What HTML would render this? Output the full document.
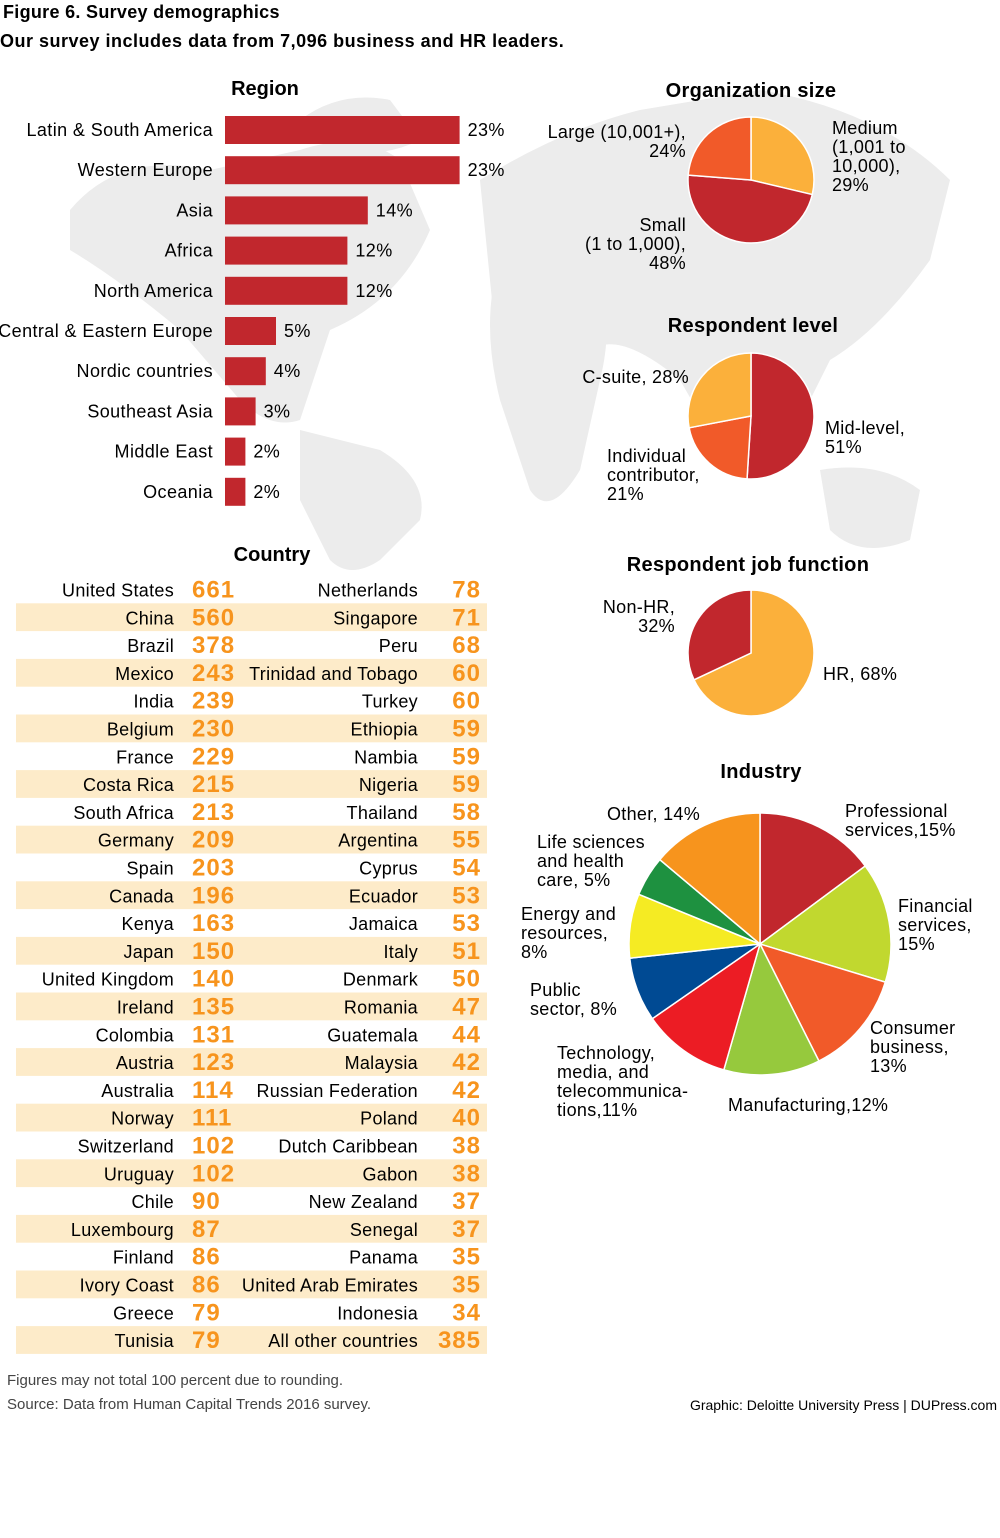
<!DOCTYPE html>
<html><head><meta charset="utf-8"><style>
body{margin:0;background:#fff;font-family:"Liberation Sans","DejaVu Sans",sans-serif;}
#root{position:relative;width:1000px;height:1538px;overflow:hidden;}
svg text{font-family:"Liberation Sans","DejaVu Sans",sans-serif;}
</style></head><body>
<div id="root">
<svg id="svg" width="1000" height="1538" viewBox="0 0 1000 1538">
<g fill="#ececec">
<path d="M70 210 Q120 150 210 170 L300 150 Q360 130 400 160 L430 230 Q400 300 330 330 L300 420 Q270 430 240 400 L180 330 Q120 280 70 250 Z"/>
<path d="M300 120 Q340 90 390 100 L420 140 Q380 160 330 150 Z"/>
<path d="M300 430 L380 450 Q430 480 420 520 L380 560 Q350 580 330 560 L300 500 Z"/>
<path d="M480 180 Q560 130 640 110 L760 90 Q880 110 950 180 L930 260 Q880 330 830 360 L800 420 Q760 470 720 450 L680 380 Q620 330 590 350 L560 420 Q520 440 500 380 Z"/>
<path d="M500 260 L580 250 Q620 300 600 380 L580 470 Q550 520 530 490 L500 400 Q480 320 500 260 Z"/>
<path d="M820 470 Q880 460 920 490 L910 540 Q860 560 830 530 Z"/>
</g>
<g id="title">
<text x="3" y="18" font-size="18" font-weight="bold" letter-spacing="0.3">Figure 6. Survey demographics</text>
<text x="0" y="47" font-size="18" font-weight="bold" letter-spacing="0.5">Our survey includes data from 7,096 business and HR leaders.</text>
</g>
<g id="region"></g>
<g id="country"></g>
<g id="pies"></g>
<g>
<text x="7" y="1385" font-size="15" fill="#444">Figures may not total 100 percent due to rounding.</text>
<text x="7" y="1409" font-size="15" fill="#444">Source: Data from Human Capital Trends 2016 survey.</text>
<text x="997" y="1410" font-size="14" text-anchor="end">Graphic: Deloitte University Press  |  DUPress.com</text>
</g>
</svg>
</div>
<script>
const regionNames=["Latin & South America","Western Europe","Asia","Africa","North America","Central & Eastern Europe","Nordic countries","Southeast Asia","Middle East","Oceania"];
const regionValues=[23,23,14,12,12,5,4,3,2,2];
const countryLeftNames=["United States","China","Brazil","Mexico","India","Belgium","France","Costa Rica","South Africa","Germany","Spain","Canada","Kenya","Japan","United Kingdom","Ireland","Colombia","Austria","Australia","Norway","Switzerland","Uruguay","Chile","Luxembourg","Finland","Ivory Coast","Greece","Tunisia"];
const countryLeftValues=[661,560,378,243,239,230,229,215,213,209,203,196,163,150,140,135,131,123,114,111,102,102,90,87,86,86,79,79];
const countryRightNames=["Netherlands","Singapore","Peru","Trinidad and Tobago","Turkey","Ethiopia","Nambia","Nigeria","Thailand","Argentina","Cyprus","Ecuador","Jamaica","Italy","Denmark","Romania","Guatemala","Malaysia","Russian Federation","Poland","Dutch Caribbean","Gabon","New Zealand","Senegal","Panama","United Arab Emirates","Indonesia","All other countries"];
const countryRightValues=[78,71,68,60,60,59,59,59,58,55,54,53,53,51,50,47,44,42,42,40,38,38,37,37,35,35,34,385];
const orgSizeLabels=["Medium","Small","Large"];
const orgSizeValues=[29,48,24];
const levelLabels=["Mid-level","Individual contributor","C-suite"];
const levelValues=[51,21,28];
const jobLabels=["HR","Non-HR"];
const jobValues=[68,32];
const industryLabels=["Professional services","Financial services","Consumer business","Manufacturing","Technology, media, and telecommunications","Public sector","Energy and resources","Life sciences and health care","Other"];
const industryValues=[15,15,13,12,11,8,8,5,14];

const NS="http://www.w3.org/2000/svg";
function mk(tag,parent,attrs){const e=document.createElementNS(NS,tag);for(const k in attrs)e.setAttribute(k,attrs[k]);parent.appendChild(e);return e;}
function txt(parent,x,y,s,attrs){const t=mk('text',parent,Object.assign({x:x,y:y},attrs||{}));t.textContent=s;return t;}

const rg=document.getElementById('region');
const t0=txt(rg,265,95,"Region",{'font-size':20,'font-weight':'bold','text-anchor':'middle'});


const xScale=v=>v*10.2;
const barY=i=>116+i*40.2;
regionNames.forEach((n,i)=>{
  const y=barY(i);
  const l=txt(rg,213,y+20,n,{'font-size':18,'text-anchor':'end','letter-spacing':0.4});
  
  
  const r=mk('rect',rg,{x:225,y:y,width:xScale(regionValues[i]),height:28,fill:'#c1272d'});
  
  
  const v=txt(rg,225+xScale(regionValues[i])+8,y+20,regionValues[i]+"%",{'font-size':18,'letter-spacing':0.4});
  
  
});

const cg=document.getElementById('country');
const ct=txt(cg,272,561,"Country",{'font-size':20,'font-weight':'bold','text-anchor':'middle'});


const rowY=i=>575.5+i*27.8;
countryLeftNames.forEach((n,i)=>{
  const y=rowY(i);
  if(i%2===1){const b=mk('rect',cg,{x:16,y:y,width:471,height:27.8,fill:'#fdebc9'});
    
    }
  const a=txt(cg,174,y+21,n,{'font-size':18,'text-anchor':'end','letter-spacing':0.3});
  
  
  const b2=txt(cg,192,y+22,String(countryLeftValues[i]),{'font-size':24,'font-weight':'bold','fill':'#f7941d','letter-spacing':1});
  
  
  const c=txt(cg,418,y+21,countryRightNames[i],{'font-size':18,'text-anchor':'end','letter-spacing':0.3});
  
  
  const d=txt(cg,481,y+22,String(countryRightValues[i]),{'font-size':24,'font-weight':'bold','fill':'#f7941d','text-anchor':'end','letter-spacing':1});
  
  
});

const pg=document.getElementById('pies');
function pie(cx,cy,r,vals,colors,name){
  const g=mk('g',pg,{});
  
  
  const tot=vals.reduce((a,b)=>a+b,0);let a0=0;
  vals.forEach((v,i)=>{
    const a1=a0+v/tot*2*Math.PI;
    const x0=cx+r*Math.sin(a0),y0=cy-r*Math.cos(a0),x1=cx+r*Math.sin(a1),y1=cy-r*Math.cos(a1);
    const p=mk('path',g,{d:`M${cx},${cy}L${x0},${y0}A${r},${r} 0 ${a1-a0>Math.PI?1:0} 1 ${x1},${y1}Z`,fill:colors[i],stroke:'#fff','stroke-width':1.5});
    
    
    a0=a1;
  });
}
pie(751,180,63,orgSizeValues,['#fbb03b','#c1272d','#f15a29'],'org-size-pie');
pie(751,416,63,levelValues,['#c1272d','#f15a29','#fbb03b'],'respondent-level-pie');
pie(751,653,63,jobValues,['#fbb03b','#c1272d'],'job-function-pie');
pie(760,944,131,industryValues,['#c1272d','#c1d82f','#f15a29','#96c93d','#ec1c24','#004a93','#f5eb23','#1e9140','#f7941d'],'industry-pie');

function lbl(lines,x,y,anchor,size,bold,name){
  const t=mk('text',pg,{x:x,y:y,'font-size':size||18,'text-anchor':anchor||'start','font-weight':bold?'bold':'normal','letter-spacing':0.3});
  
  
  lines.forEach((s,i)=>{const ts=mk('tspan',t,{x:x,dy:i?19:0});ts.textContent=s;});
}
lbl(["Organization size"],751,97,'middle',20,true,'org-size-title');
lbl(["Large (10,001+),","24%"],686,138,'end',18,false,'label-large');
lbl(["Medium","(1,001 to","10,000),","29%"],832,134,'start',18,false,'label-medium');
lbl(["Small","(1 to 1,000),","48%"],686,231,'end',18,false,'label-small');
lbl(["Respondent level"],753,332,'middle',20,true,'respondent-level-title');
lbl(["C-suite, 28%"],689,383,'end',18,false,'label-csuite');
lbl(["Mid-level,","51%"],825,434,'start',18,false,'label-midlevel');
lbl(["Individual","contributor,","21%"],607,462,'start',18,false,'label-individual');
lbl(["Respondent job function"],748,571,'middle',20,true,'job-function-title');
lbl(["Non-HR,","32%"],675,613,'end',18,false,'label-nonhr');
lbl(["HR, 68%"],823,680,'start',18,false,'label-hr');
lbl(["Industry"],761,778,'middle',20,true,'industry-title');
lbl(["Other, 14%"],607,820,'start',18,false,'label-other');
lbl(["Professional","services,15%"],845,817,'start',18,false,'label-professional');
lbl(["Life sciences","and health","care, 5%"],537,848,'start',18,false,'label-life-sciences');
lbl(["Financial","services,","15%"],898,912,'start',18,false,'label-financial');
lbl(["Energy and","resources,","8%"],521,920,'start',18,false,'label-energy');
lbl(["Public","sector, 8%"],530,996,'start',18,false,'label-public');
lbl(["Consumer","business,","13%"],870,1034,'start',18,false,'label-consumer');
lbl(["Technology,","media, and","telecommunica-","tions,11%"],557,1059,'start',18,false,'label-technology');
lbl(["Manufacturing,12%"],728,1111,'start',18,false,'label-manufacturing');
</script>
</body></html>
